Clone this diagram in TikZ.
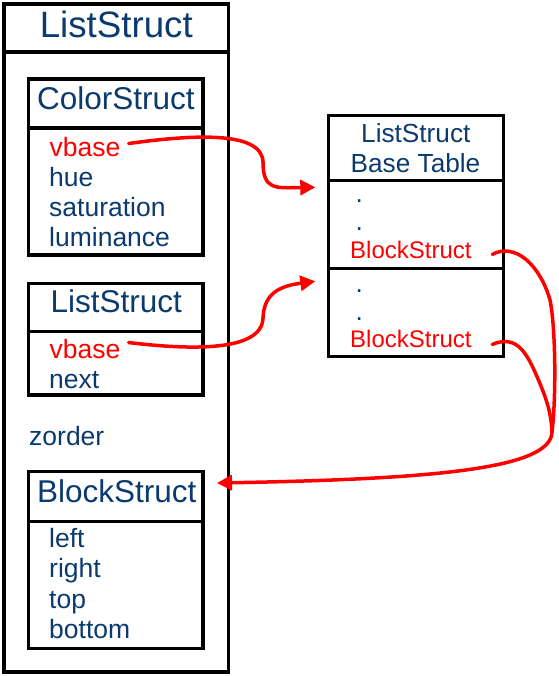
\documentclass[tikz,border=0pt]{standalone}
\usepackage{fontspec}
\setmainfont{Liberation Sans}
\usetikzlibrary{arrows.meta}
\definecolor{txtblue}{HTML}{0B3A6E}
\definecolor{ptrred}{HTML}{FF0000}
\begin{document}
\begin{tikzpicture}[x=1pt,y=-1pt,
  box/.style={draw=black,line width=3.5pt,rectangle,inner sep=0pt,outer sep=0pt,anchor=north west},
  ttl/.style={text=txtblue,inner sep=0pt,anchor=base,font=\fontsize{36.7}{40}\selectfont},
  hdr/.style={text=txtblue,inner sep=0pt,anchor=base,font=\fontsize{31.5}{36}\selectfont},
  fld/.style={text=txtblue,inner sep=0pt,anchor=base west,font=\fontsize{26.5}{30}\selectfont},
  tbl/.style={text=txtblue,inner sep=0pt,anchor=base,font=\fontsize{26.2}{30}\selectfont},
  tdot/.style={text=txtblue,inner sep=0pt,anchor=base,font=\fontsize{26.2}{30}\selectfont},
  rfld/.style={text=ptrred,inner sep=0pt,anchor=base west,font=\fontsize{26.5}{30}\selectfont},
  rtbl/.style={text=ptrred,inner sep=0pt,anchor=base west,font=\fontsize{24}{28}\selectfont},
  ptr/.style={draw=ptrred,line width=3.5pt,line cap=round,line join=round},
  tipped/.style={ptr,-{Triangle[length=15pt,width=15pt]}}]
\useasboundingbox (0,0) rectangle (558,676);
% outer ListStruct
\node[box,minimum width=224.5pt,minimum height=48pt] (outerh) at (4,4) {};
\node[box,minimum width=224.5pt,minimum height=620pt] (outerb) at (4,52) {};
\node[ttl] (outert) at (116.3,38) {ListStruct};
% ColorStruct
\node[box,minimum width=174.3pt,minimum height=49pt] (csh) at (28.5,79) {};
\node[box,minimum width=174.3pt,minimum height=127pt] (csb) at (28.5,128) {};
\node[hdr] (cst) at (115.8,110) {ColorStruct};
\node[rfld] (vbase1) at (49.5,157) {vbase};
\node[fld] (hue) at (49,186) {hue};
\node[fld] (sat) at (49,216) {saturation};
\node[fld] (lum) at (49,246) {luminance};
% inner ListStruct
\node[box,minimum width=174.3pt,minimum height=48.4pt] (lsh) at (28.5,283.3) {};
\node[box,minimum width=174.3pt,minimum height=63.3pt] (lsb) at (28.5,331.7) {};
\node[hdr] (lst) at (116.3,312) {ListStruct};
\node[rfld] (vbase2) at (49.5,358) {vbase};
\node[fld] (next) at (49,388) {next};
\node[fld] (zorder) at (29,445) {zorder};
% BlockStruct
\node[box,minimum width=174.3pt,minimum height=50pt] (bsh) at (28.5,471.7) {};
\node[box,minimum width=174.3pt,minimum height=126.6pt] (bsb) at (28.5,521.7) {};
\node[hdr] (bst) at (116.7,502) {BlockStruct};
\node[fld] (left) at (49,547) {left};
\node[fld] (right) at (49,577) {right};
\node[fld] (top) at (49,608) {top};
\node[fld] (bottom) at (49,638) {bottom};
% Base table
\node[box,minimum width=175pt,minimum height=64.6pt] (tblh) at (328.3,115.7) {};
\node[box,minimum width=175pt,minimum height=88pt] (row1) at (328.3,180.3) {};
\node[box,minimum width=175pt,minimum height=88.4pt] (row2) at (328.3,268.3) {};
\node[tbl] (tt1) at (415.8,143) {ListStruct};
\node[tbl] (tt2) at (415.5,173) {Base Table};
\node[tdot] (d1) at (359.3,203) {.};
\node[tdot] (d2) at (359.3,230) {.};
\node[rtbl] (bs1) at (350,258) {BlockStruct};
\node[tdot] (d3) at (359.3,292) {.};
\node[tdot] (d4) at (359.3,320) {.};
\node[rtbl] (bs2) at (350,347) {BlockStruct};
% connector end points
\coordinate (s1) at ([shift={(8pt,4pt)}]vbase1.east);
\coordinate (t1) at ([shift={(-13pt,-7pt)}]row1.north west);
\coordinate (s2) at ([shift={(8pt,6pt)}]vbase2.east);
\coordinate (t2) at ([shift={(-13pt,-13pt)}]row2.north west);
\coordinate (s3) at ([shift={(20.5pt,-5pt)}]bs1.east);
\coordinate (s4) at ([shift={(20.5pt,-6pt)}]bs2.east);
\coordinate (m) at ([shift={(48.7pt,-75.3pt)}]row2.south east);
\coordinate (t3) at ([shift={(14.2pt,-11.3pt)}]bsh.north east);
% connectors
\draw[tipped] (s1) .. controls (190,135) and (262,130) .. (263,162)
  .. controls (263,190) and (275,188) .. (t1);
\draw[tipped] (s2) .. controls (190,350) and (262,352) .. (263,318)
  .. controls (264,293) and (280,286) .. (t2);
\draw[ptr] (s3) .. controls (515,242) and (540,265) .. (550,300)
  .. controls (556,330) and (556,400) .. (m);
\draw[ptr] (s4) .. controls (515,335) and (525,350) .. (535,372)
  .. controls (545,395) and (551,410) .. (m);
\draw[tipped] (m) .. controls (551,468) and (440,479) .. (t3);
\end{tikzpicture}
\end{document}
